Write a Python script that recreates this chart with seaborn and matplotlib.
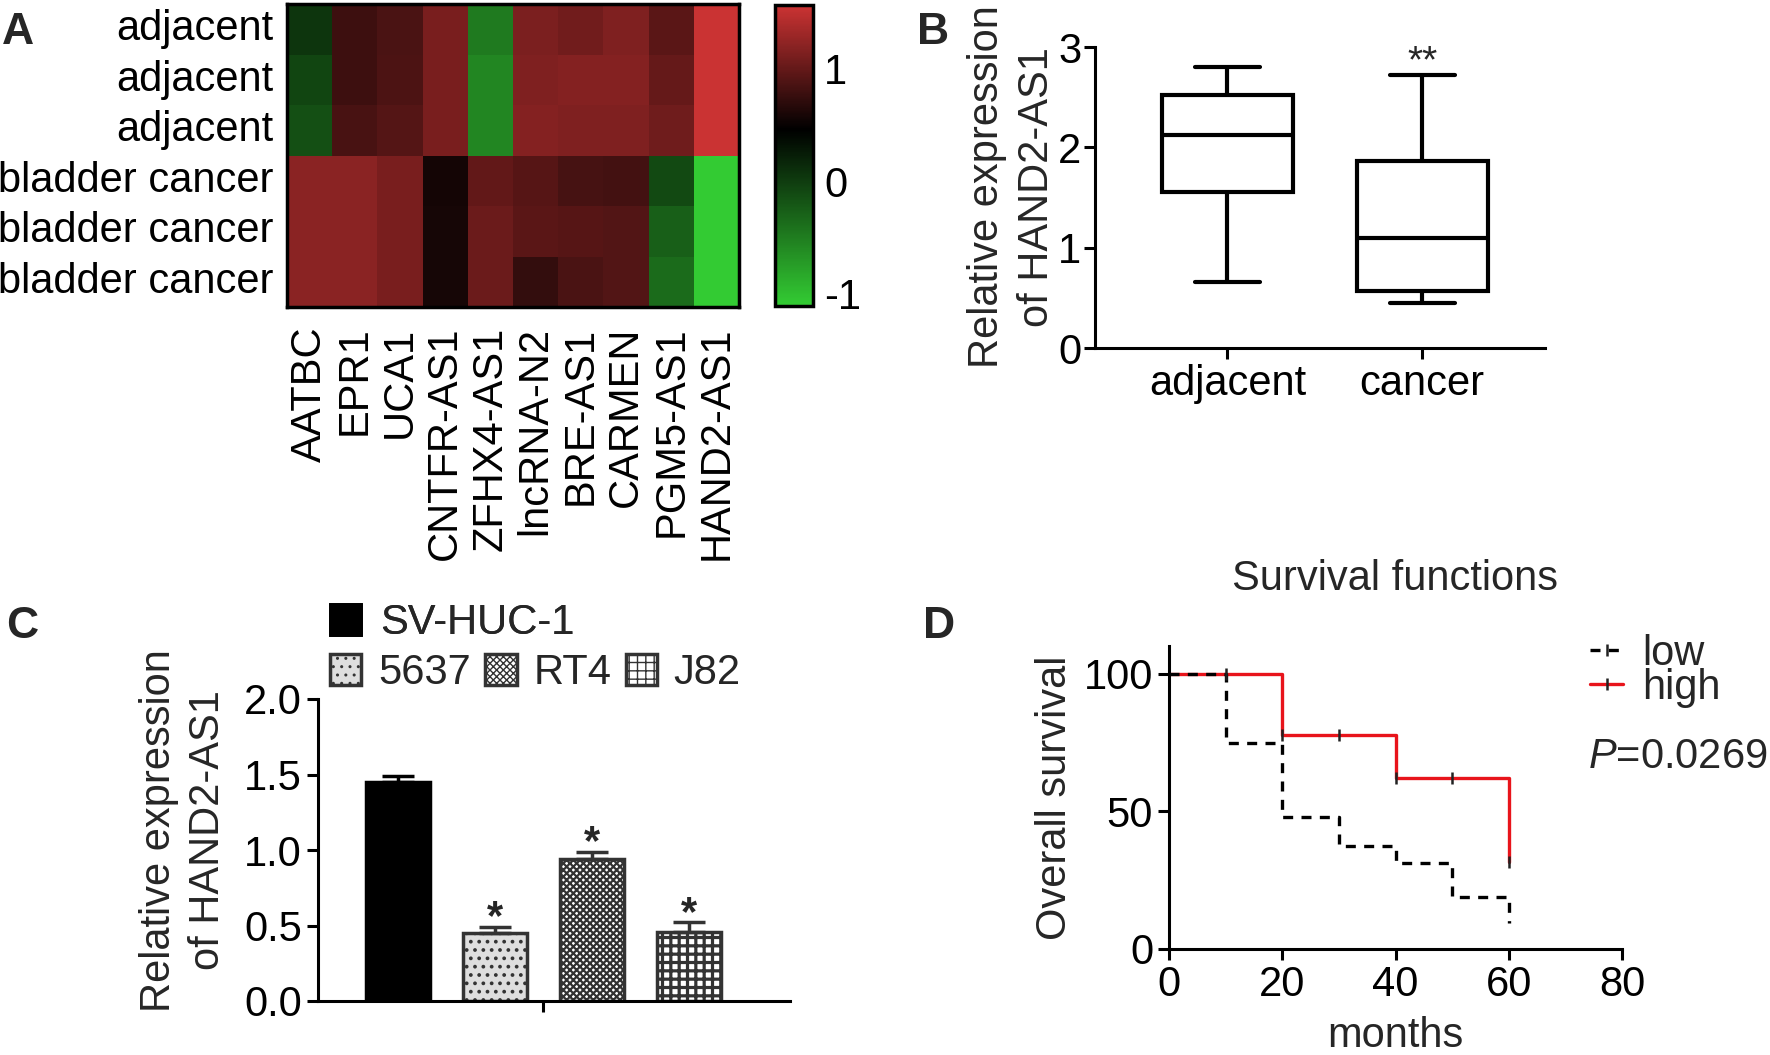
import numpy as np
import pandas as pd
import matplotlib
matplotlib.use("Agg")
import matplotlib.pyplot as plt
from matplotlib.colors import LinearSegmentedColormap
from matplotlib.patches import Patch
from matplotlib.lines import Line2D
import seaborn as sns

# ---- data ----
# A: heatmap of lncRNA expression (z-score like)
row_labels = ["adjacent", "adjacent", "adjacent",
              "bladder cancer", "bladder cancer", "bladder cancer"]
gene_labels = ["AATBC", "EPR1", "UCA1", "CNTFR-AS1", "ZFHX4-AS1",
               "lncRNA-N2", "BRE-AS1", "CARMEN", "PGM5-AS1", "HAND2-AS1"]
heat_adj1 = [0.05, 0.79, 0.86, 1.11, -0.48, 1.12, 1.07, 1.15, 0.95, 1.55]
heat_adj2 = [-0.07, 0.79, 0.87, 1.11, -0.57, 1.15, 1.18, 1.18, 1.01, 1.55]
heat_adj3 = [-0.14, 0.85, 0.91, 1.11, -0.57, 1.18, 1.15, 1.15, 1.06, 1.55]
heat_ca1 = [1.21, 1.21, 1.11, 0.57, 0.99, 0.93, 0.84, 0.82, -0.10, -1.10]
heat_ca2 = [1.21, 1.21, 1.11, 0.58, 1.04, 0.95, 0.92, 0.90, -0.27, -1.10]
heat_ca3 = [1.21, 1.21, 1.11, 0.58, 1.04, 0.74, 0.86, 0.90, -0.36, -1.10]

# B: box plot (min, Q1, median, Q3, max)
box_groups = ["adjacent", "cancer"]
box_adjacent = [0.66, 1.55, 2.12, 2.52, 2.80]
box_cancer = [0.45, 0.57, 1.10, 1.86, 2.72]

# C: bar chart, mean and SEM
cell_lines = ["SV-HUC-1", "5637", "RT4", "J82"]
cell_means = [1.45, 0.45, 0.94, 0.46]
cell_sem = [0.04, 0.04, 0.05, 0.06]

# D: Kaplan-Meier curves
km_low_t = [0, 10, 20, 30, 40, 50, 60]
km_low_s = [100, 74.9, 48.0, 37.5, 31.2, 18.7, 9.5]
km_high_t = [0, 20, 40, 60]
km_high_s = [100, 77.8, 62.2, 31.6]
cens_high_t = [20, 30, 40, 50, 60]
cens_high_s = [77.8, 77.8, 62.2, 62.2, 31.6]
cens_low_t = [10]
cens_low_s = [100]

# ---- style ----
sns.set_style("ticks")
plt.rcParams["font.family"] = ["Liberation Sans", "DejaVu Sans"]
plt.rcParams["mathtext.fontset"] = "custom"
plt.rcParams["mathtext.it"] = "Liberation Sans:italic"
plt.rcParams["mathtext.rm"] = "Liberation Sans"
plt.rcParams["axes.unicode_minus"] = False
plt.rcParams["axes.linewidth"] = 2.2
plt.rcParams["xtick.major.width"] = 2.2
plt.rcParams["ytick.major.width"] = 2.2
plt.rcParams["xtick.major.size"] = 8
plt.rcParams["ytick.major.size"] = 8
plt.rcParams["xtick.color"] = "black"
plt.rcParams["ytick.color"] = "black"
plt.rcParams["axes.edgecolor"] = "black"

FS = 30
LETTER = 32
W, H = 1770, 1055
fig = plt.figure(figsize=(W / 100, H / 100), dpi=100)


def px_rect(l, t, r, b):
    return [l / W, 1 - b / H, (r - l) / W, (b - t) / H]


# ---- A ----
ax_a = fig.add_axes(px_rect(287, 4, 739, 307))
cax = fig.add_axes(px_rect(775, 5, 813, 306))
vmin, vmax = -1.115, 1.57
mid = (0.46 - vmin) / (vmax - vmin)
cmap = LinearSegmentedColormap.from_list(
    "gbr", [(0, "#33cc33"), (mid, "#000000"), (1, "#cc3333")])
heat = pd.DataFrame([heat_adj1, heat_adj2, heat_adj3, heat_ca1, heat_ca2, heat_ca3],
                    columns=gene_labels)
sns.heatmap(heat, cmap=cmap, vmin=vmin, vmax=vmax, ax=ax_a, cbar_ax=cax,
            xticklabels=gene_labels, yticklabels=row_labels,
            cbar_kws={"ticks": [-1, 0, 1]})
ax_a.tick_params(axis="both", length=0, labelsize=FS)
ax_a.tick_params(axis="y", pad=10, labelrotation=0)
ax_a.tick_params(axis="x", pad=14, labelrotation=90)
for s in ax_a.spines.values():
    s.set_visible(True)
    s.set_linewidth(2.5)
cax.tick_params(direction="in", length=7, width=2, left=True, right=True,
                labelsize=FS, pad=8)
cbar = ax_a.collections[0].colorbar
cbar.outline.set_linewidth(2.5)
cbar.outline.set_edgecolor("black")
fig.text(2 / W, 1 - 12 / H, "A", fontsize=LETTER, fontweight="bold", va="top")

# ---- B ----
ax_b = fig.add_axes(px_rect(1095, 47, 1545, 348))
df_b = pd.DataFrame({
    "group": [box_groups[0]] * len(box_adjacent) + [box_groups[1]] * len(box_cancer),
    "expr": box_adjacent + box_cancer,
})
sns.boxplot(data=df_b, x="group", y="expr", order=box_groups, whis=(0, 100),
            width=0.67, color="white", linecolor="black", linewidth=3.0, ax=ax_b)
ax_b.set_xlim(-0.68, 1.63)
ax_b.set_ylim(0, 3)
ax_b.set_yticks([0, 1, 2, 3])
ax_b.tick_params(labelsize=FS)
ax_b.tick_params(axis="y", pad=2)
ax_b.set_xlabel("")
ax_b.set_ylabel("Relative expression\nof HAND2-AS1", fontsize=FS, linespacing=1.3)
ax_b.yaxis.set_label_coords(-0.085, 0.535)
sns.despine(ax=ax_b)
ax_b.text(1, box_cancer[-1] + 0.03, "**", ha="center", va="baseline", fontsize=28)
fig.text(917 / W, 1 - 12 / H, "B", fontsize=LETTER, fontweight="bold", va="top")

# ---- C ----
ax_c = fig.add_axes(px_rect(318, 699, 790, 1001))
df_c = pd.DataFrame({"line": cell_lines, "expr": cell_means})
bar_faces = ["black", "#dedede", "white", "white"]
bar_hatch = [None, "..", "xxxxx", "++"]
bar_hatch_lw = [1.0, 1.5, 1.6, 2.3]
sns.barplot(data=df_c, x="line", y="expr", hue="line", order=cell_lines,
            hue_order=cell_lines, palette=bar_faces, saturation=1, width=0.66,
            errorbar=None, legend=False, ax=ax_c)
for p, face, hatch, hlw in zip(ax_c.patches, bar_faces, bar_hatch, bar_hatch_lw):
    p.set_facecolor(face)
    p.set_edgecolor("black" if hatch is None else "#333333")
    p.set_linewidth(2.5)
    if hatch:
        p.set_hatch(hatch)
        if hasattr(p, "set_hatch_linewidth"):
            p.set_hatch_linewidth(hlw)
ecols = ["black", "#333333", "#333333", "#333333"]
for i, (m, e) in enumerate(zip(cell_means, cell_sem)):
    ax_c.errorbar(i, m, yerr=[[0], [e]], fmt="none", ecolor=ecols[i],
                  elinewidth=2.5, capsize=11.5, capthick=2.5, zorder=1)
    if i > 0:
        ax_c.text(i, m + e - 0.015, "*", ha="center", va="baseline",
                  fontsize=FS, fontweight="bold")
ax_c.set_xlim(-0.82, 4.04)
ax_c.set_ylim(0, 2.0)
ax_c.set_yticks([0, 0.5, 1.0, 1.5, 2.0])
ax_c.set_yticklabels([f"{v:.1f}" for v in [0, 0.5, 1.0, 1.5, 2.0]])
ax_c.set_xticks([1.5])
ax_c.set_xticklabels([""])
ax_c.tick_params(labelsize=FS)
ax_c.set_xlabel("")
ax_c.set_ylabel("Relative expression\nof HAND2-AS1", fontsize=FS, linespacing=1.3)
ax_c.yaxis.set_label_coords(-0.19, 0.566)
sns.despine(ax=ax_c)
h_sv = [Patch(facecolor="black", edgecolor="black", linewidth=2)]
h_ca = []
for f, h, hlw in zip(bar_faces[1:], bar_hatch[1:], bar_hatch_lw[1:]):
    hp = Patch(facecolor=f, edgecolor="#333333", hatch=h, linewidth=2.5)
    if hasattr(hp, "set_hatch_linewidth"):
        hp.set_hatch_linewidth(hlw)
    h_ca.append(hp)
leg1 = fig.legend(h_sv, cell_lines[:1], loc="center left", frameon=False,
                  bbox_to_anchor=(330 / W, 1 - 623 / H), fontsize=FS,
                  handlelength=0.75, handleheight=0.8, handletextpad=0.45,
                  borderpad=0, borderaxespad=0)
fig.legend(h_ca, cell_lines[1:], loc="center left", frameon=False, ncol=3,
           bbox_to_anchor=(330 / W, 1 - 673 / H), fontsize=FS,
           handlelength=0.75, handleheight=0.8, handletextpad=0.4,
           columnspacing=0.35, borderpad=0, borderaxespad=0)
fig.add_artist(leg1)
fig.text(6 / W, 1 - 606 / H, "C", fontsize=LETTER, fontweight="bold", va="top")

# ---- D ----
ax_d = fig.add_axes(px_rect(1169, 646, 1622, 949))
df_d = pd.DataFrame({
    "t": km_high_t + km_low_t,
    "s": km_high_s + km_low_s,
    "group": ["high"] * len(km_high_t) + ["low"] * len(km_low_t),
})
sns.lineplot(data=df_d, x="t", y="s", hue="group", style="group",
             hue_order=["high", "low"], style_order=["high", "low"],
             palette={"high": "#e8141b", "low": "black"},
             dashes={"high": "", "low": (3, 2.5)},
             drawstyle="steps-post", linewidth=2.4, legend=False,
             estimator=None, ax=ax_d)
ax_d.lines[1].set_zorder(3)
ax_d.plot(cens_high_t, cens_high_s, ls="none", marker="|", markersize=9,
          mew=1.8, color="#222222", zorder=4)
ax_d.plot(cens_low_t, cens_low_s, ls="none", marker="|", markersize=9,
          mew=1.8, color="#222222", zorder=4)
ax_d.set_xlim(0, 80)
ax_d.set_ylim(0, 110)
ax_d.set_xticks([0, 20, 40, 60, 80])
ax_d.set_yticks([0, 50, 100])
ax_d.tick_params(labelsize=FS)
ax_d.set_xlabel("months", fontsize=FS, labelpad=8)
ax_d.set_ylabel("Overall survival", fontsize=FS, labelpad=6)
ax_d.set_title("Survival functions", fontsize=FS, pad=40)
sns.despine(ax=ax_d)
km_handles = [
    Line2D([0], [0], color="black", lw=2.4, dashes=(3, 2.5), marker="|",
           markersize=9, mec="#222222", mew=1.8),
    Line2D([0], [0], color="#e8141b", lw=2.4, marker="|",
           markersize=9, mec="#222222", mew=1.8),
]
fig.legend(km_handles, ["low", "high"], loc="upper left", frameon=False,
           bbox_to_anchor=(1590 / W, 1 - 634 / H), fontsize=FS,
           handlelength=0.8, handletextpad=0.45, labelspacing=-0.15,
           borderpad=0, borderaxespad=0)
fig.text(1588 / W, 1 - 757 / H, r"$\mathit{P}$=0.0269", fontsize=FS,
         va="center", ha="left")
fig.text(923 / W, 1 - 606 / H, "D", fontsize=LETTER, fontweight="bold", va="top")

fig.savefig("out.png", dpi=100)
